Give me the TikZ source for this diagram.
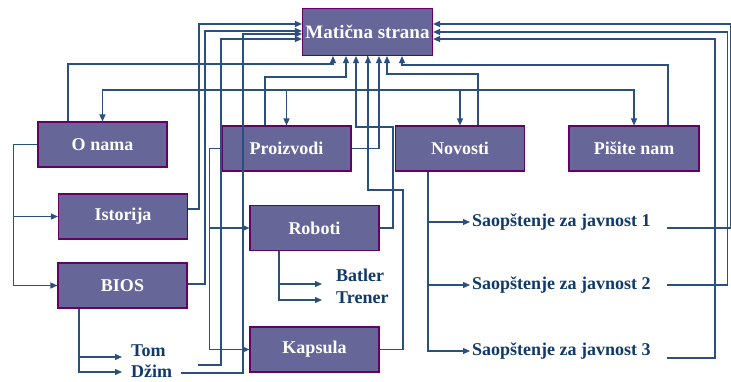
\documentclass[tikz,border=0pt]{standalone}
\usepackage{fontspec}
\setmainfont{Liberation Serif}
\usetikzlibrary{arrows.meta,calc}
\definecolor{pageFill}{RGB}{102,102,153}
\definecolor{pageEdge}{RGB}{102,0,102}
\definecolor{linkLine}{HTML}{2A5080}
\definecolor{itemText}{HTML}{0F3A6A}
\tikzset{
    page/.style={
        rectangle,
        draw=pageEdge,
        fill=pageFill,
        line width=1.1pt,
        minimum width=129pt,
        minimum height=45pt,
        inner sep=0pt,
        text=white,
        font=\fontsize{18}{20}\selectfont\bfseries
    },
    item/.style={
        anchor=west,
        inner sep=0pt,
        text=itemText,
        font=\fontsize{18}{20}\selectfont\bfseries
    },
    % Arrows
    link/.style={-{Triangle[length=7pt,width=6pt]}, line width=1.3pt, draw=linkLine},
    wire/.style={line width=1.3pt, draw=linkLine}
}
\begin{document}
\begin{tikzpicture}[x=1pt, y=-1pt]
\useasboundingbox (0,0) rectangle (731,381);
% pages
\node[page, minimum width=130pt, minimum height=47pt, font=\fontsize{19}{21}\selectfont\bfseries] (matica) at (367.5,32) {Matična strana};
\node[page] (onama) at (102.5,144.5) {O nama};
\node[page] (istorija) at (123,216.5) {Istorija};
\node[page] (bios) at (122.5,285.5) {BIOS};
\node[page] (proizvodi) at (286.5,148.5) {Proizvodi};
\node[page] (roboti) at (314.5,228) {Roboti};
\node[page] (kapsula) at (314.5,349.5) {Kapsula};
\node[page] (novosti) at (460,148.5) {Novosti};
\node[page, minimum width=130pt] (pisite) at (634,148.5) {Pišite nam};
% items
\node[item, inner xsep=9pt] (tom) at (122,350.5) {Tom};
\node[item, inner xsep=9pt] (dzim) at (122,371) {Džim};
\node[item, inner xsep=14pt] (batler) at (322,275) {Batler};
\node[item, inner xsep=14pt] (trener) at (322,298) {Trener};
\node[item, inner xsep=2pt] (saop1) at (470,222) {Saopštenje za javnost 1};
\node[item, inner xsep=2pt] (saop2) at (470,285) {Saopštenje za javnost 2};
\node[item, inner xsep=2pt] (saop3) at (470,351) {Saopštenje za javnost 3};
\coordinate (tomOut) at (198,365);
\coordinate (s1Out) at (667,228);
\coordinate (s2Out) at (667,285);
\coordinate (s3Out) at (667,358);

% home page down to the sections
\coordinate (hub) at (matica.south |- 0,90);
\draw[wire] (matica.south) -- (hub);
\draw[link] (hub) -| (onama.north);
\draw[link] (hub) -| (pisite.north);
\draw[link] (proizvodi.north |- hub) -- (proizvodi.north);
\draw[link] (novosti.north |- hub) -- (novosti.north);

% sections to their pages
\draw[link] (onama.west) -- ++(-24,0) |- (istorija.west);
\draw[link] (onama.west) -- ++(-24,0) |- (bios.west);
\draw[link] (proizvodi.west) -- ++(-12,0) |- (roboti.west);
\draw[link] (proizvodi.west) -- ++(-12,0) |- (kapsula.west);
\draw[link] (bios.south -| 79,0) |- (tom.west |- 0,357);
\draw[link] (bios.south -| 79,0) |- (dzim.west |- 0,372);
\draw[link] (roboti.south -| 279,0) |- (batler.west |- 0,284);
\draw[link] (roboti.south -| 279,0) |- (trener.west |- 0,300);
\draw[link] (novosti.south -| 428,0) |- (saop1.west);
\draw[link] (novosti.south -| 428,0) |- (saop2.west);
\draw[link] (novosti.south -| 428,0) |- (saop3.west);

% back to the home page, from below
\draw[link] (onama.north -| 68,0) |- (333,64) -- (matica.south -| 333,0);
\draw[link] (proizvodi.north -| 265,0) |- (346,77) -- (matica.south -| 346,0);
\draw[link] (roboti.east) -| (393,127) -| (matica.south -| 356,0);
\draw[link] (kapsula.east) -| (403,190) -| (matica.south -| 368,0);
\draw[link] (proizvodi.east) -| (matica.south -| 379,0);
\draw[link] (novosti.north -| 478,0) |- (387,74) -- (matica.south -| 387,0);
\draw[link] (pisite.north -| 668,0) |- (402,65) -- (matica.south -| 402,0);

% back to the home page, left and right
\draw[link] (istorija.east |- 0,209) -| (199,24) -- (matica.west |- 0,24);
\draw[link] (bios.east |- 0,284) -| (205,31) -- (matica.west |- 0,31);
\draw[link] (dzim.east |- 0,373) -| (243,34) -- (matica.west |- 0,34);
\draw[link] (tomOut) -| (221,39) -- (matica.west |- 0,39);
\draw[link] (s1Out) -| (730.3,24) -- (matica.east |- 0,24);
\draw[link] (s2Out) -| (727.5,32) -- (matica.east |- 0,32);
\draw[link] (s3Out) -| (715,39) -- (matica.east |- 0,39);
\end{tikzpicture}
\end{document}
